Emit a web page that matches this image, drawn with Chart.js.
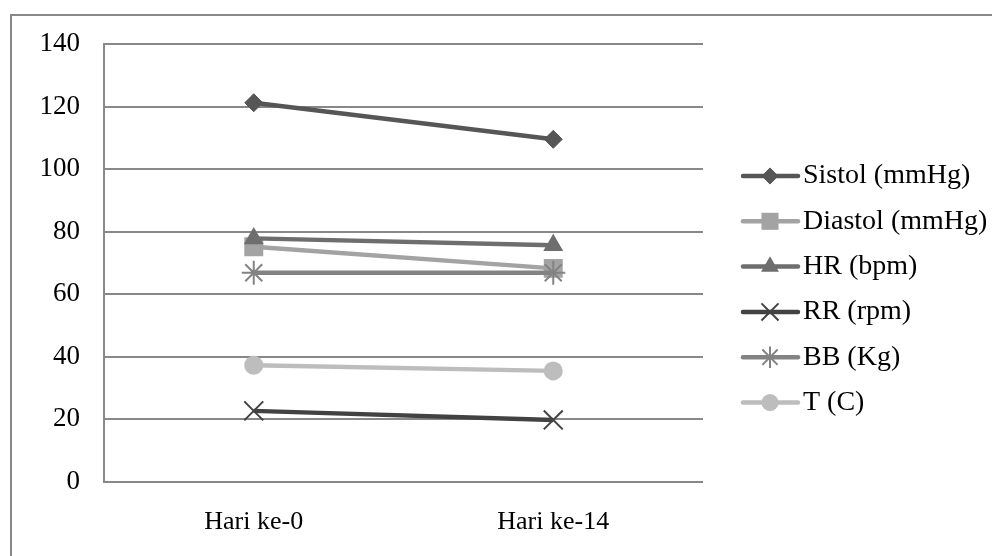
<!DOCTYPE html>
<html>
<head>
<meta charset="utf-8">
<script src="https://cdn.jsdelivr.net/npm/chart.js@4/dist/chart.umd.min.js"></script>
<style>
  html, body { margin: 0; padding: 0; background: #fff; overflow: hidden; }
  #wrap { position: relative; width: 992px; height: 556px; }
  #frame { position: absolute; left: 10px; top: 14px; width: 1100px; height: 700px;
           border-left: 2px solid #888; border-top: 2px solid #888; box-sizing: border-box; }
  canvas { position: absolute; left: 0; top: 0; }
</style>
</head>
<body>
<div id="wrap">
  <div id="frame"></div>
  <canvas id="c" width="992" height="556"></canvas>
</div>
<script>
// Observation days
const categories = ['Hari ke-0', 'Hari ke-14'];

// Vital sign measurements per day
const sistol  = [121.2, 109.5];
const diastol = [75.1, 68.2];
const hr      = [77.8, 75.6];
const rr      = [22.6, 19.7];
const bb      = [66.8, 66.8];
const suhu    = [37.2, 35.4];

const seriesNames = ['Sistol (mmHg)', 'Diastol (mmHg)', 'HR (bpm)', 'RR (rpm)', 'BB (Kg)', 'T (C)'];
const yTicks = [0, 20, 40, 60, 80, 100, 120, 140];

const FONT = 'Liberation Serif, Times New Roman, serif';

function series(label, data, color, pointStyle, radius, pbw, idx) {
  return {
    label, data,
    borderColor: color,
    backgroundColor: color,
    pointBackgroundColor: color,
    pointBorderColor: color,
    borderWidth: 4.5,
    pointStyle,
    pointRadius: radius,
    pointHoverRadius: radius,
    pointBorderWidth: pbw,
    tension: 0,
    order: 6 - idx   // later series are painted on top
  };
}

const datasets = [
  series(seriesNames[0], sistol,  '#565656', 'rectRot',  9,    1, 0),
  series(seriesNames[1], diastol, '#a3a3a3', 'rect',     13.4, 0, 1),
  series(seriesNames[2], hr,      '#6e6e6e', 'triangle', 11.5, 0, 2),
  series(seriesNames[3], rr,      '#424242', 'crossRot', 13.4, 2, 3),
  series(seriesNames[4], bb,      '#838383', 'star',     12,   2, 4),
  series(seriesNames[5], suhu,    '#bdbdbd', 'circle',   9.5,  0, 5)
];

// Legend at the right: a line segment with the series marker, then the name
const sideLegend = {
  id: 'sideLegend',
  afterDraw(chart) {
    const ctx = chart.ctx;
    const x0 = 743, x1 = 798, mx = 770, tx = 803;
    const y0 = 176, step = 45.3;
    ctx.save();
    chart.data.datasets.forEach((ds, i) => {
      const y = y0 + i * step;
      ctx.strokeStyle = ds.borderColor;
      ctx.lineWidth = 4.5;
      ctx.lineCap = 'round';
      ctx.beginPath();
      ctx.moveTo(x0, y);
      ctx.lineTo(x1, y);
      ctx.stroke();

      ctx.fillStyle = ds.pointBackgroundColor;
      ctx.strokeStyle = ds.pointBorderColor;
      ctx.lineWidth = ds.pointBorderWidth;
      ctx.lineCap = 'butt';
      Chart.helpers.drawPoint(ctx, {
        pointStyle: ds.pointStyle,
        rotation: 0,
        borderWidth: ds.pointBorderWidth,
        radius: ds.pointRadius * 0.9
      }, mx, y);

      ctx.fillStyle = '#000';
      ctx.font = '28px ' + FONT;
      ctx.textBaseline = 'middle';
      ctx.textAlign = 'left';
      ctx.fillText(ds.label, tx, y);
    });
    ctx.restore();
  }
};

new Chart(document.getElementById('c'), {
  type: 'line',
  data: { labels: categories, datasets },
  options: {
    responsive: false,
    animation: false,
    devicePixelRatio: 1,
    layout: { padding: { top: 44, right: 289, left: 0, bottom: 0 } },
    plugins: { legend: { display: false }, tooltip: { enabled: false } },
    scales: {
      x: {
        offset: true,
        grid: { display: false, drawTicks: false },
        border: { display: false },
        ticks: { color: '#000', font: { family: FONT, size: 26 }, padding: 25, maxRotation: 0 },
        afterFit(s) { s.height = 74.5; }
      },
      y: {
        min: 0, max: 140,
        afterBuildTicks(s) { s.ticks = yTicks.map(v => ({ value: v })); },
        grid: { color: '#888', lineWidth: 2, drawTicks: false },
        border: { display: true, color: '#888', width: 2 },
        ticks: { color: '#000', font: { family: FONT, size: 27 }, padding: 24 },
        afterFit(s) { s.width = 104; }
      }
    }
  },
  plugins: [sideLegend]
});
</script>
</body>
</html>
